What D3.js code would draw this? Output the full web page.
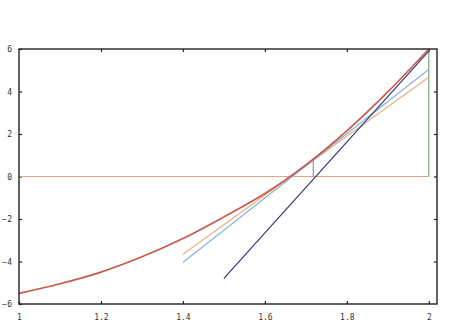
<!DOCTYPE html>
<html lang="en">
<head>
    <meta charset="UTF-8">
    <title>Newton iteration plot</title>
    <style>
        body { margin: 0; background: #fff; }
        .axis text { font-family: "DejaVu Sans Mono", monospace; font-size: 8px; fill: #333; }
        .axis line { stroke: #222; stroke-width: 1.2px; }
        .axis path { display: none; }
        .curve { fill: none; }
    </style>
    <script src="https://d3js.org/d3.v7.min.js"></script>
</head>
<body>
    <svg width="474" height="336"></svg>
    <script>
        // values
        const curveX = [1.0, 1.1, 1.2, 1.3, 1.4, 1.5, 1.6, 1.7, 1.8, 1.9, 2.0];
        const curveY = [-5.50, -5.05, -4.50, -3.78, -2.92, -1.90, -0.80, 0.55, 2.15, 3.98, 6.0];

        // straight segments: [x0, y0, x1, y1]
        const tangentNavy = [1.5, -4.79, 2.0, 5.9];
        const secantBlue = [1.4, -4.04, 2.0, 5.04];
        const secantOrange = [1.4, -3.66, 2.0, 4.67];
        const zeroLine = [1.0, 0, 2.0, 0];
        const stepPurple = [1.718, 0, 1.718, 0.87];
        const stepGreen = [2.0, 0, 2.0, 6.0];

        const xTicks = [1, 1.2, 1.4, 1.6, 1.8, 2];
        const yTicks = [-6, -4, -2, 0, 2, 4, 6];

        const mLeft = 19, mRight = 437, mTop = 49, mBottom = 304;

        const svg = d3.select("svg");

        const x = d3.scaleLinear().domain([1, 2.02]).range([mLeft, mRight]);
        const y = d3.scaleLinear().domain([-6, 6]).range([mBottom, mTop]);

        // axes, ticks point inward
        svg.append("g").attr("class", "axis")
            .attr("transform", `translate(0,${mBottom})`)
            .call(d3.axisBottom(x).tickValues(xTicks).tickSizeInner(-3).tickSizeOuter(0).tickPadding(10)
                .tickFormat(d3.format("")));

        svg.append("g").attr("class", "axis")
            .attr("transform", `translate(0,${mTop})`)
            .call(d3.axisTop(x).tickValues(xTicks.slice(1)).tickSizeInner(-3).tickSizeOuter(0).tickFormat(""));

        svg.append("g").attr("class", "axis")
            .attr("transform", `translate(${mLeft},0)`)
            .call(d3.axisLeft(y).tickValues(yTicks).tickSizeInner(-3).tickSizeOuter(0).tickPadding(7)
                .tickFormat(d3.format("")));

        svg.append("g").attr("class", "axis")
            .attr("transform", `translate(${mRight},0)`)
            .call(d3.axisRight(y).tickValues(yTicks.slice(1, -1)).tickSizeInner(-3).tickSizeOuter(0).tickFormat(""));

        // plot lines
        const seg = (s, color, w) => svg.append("line")
            .attr("x1", x(s[0])).attr("y1", y(s[1]))
            .attr("x2", x(s[2])).attr("y2", y(s[3]))
            .attr("stroke", color).attr("stroke-width", w);

        seg(zeroLine, "#e6a487", 1.1);
        seg(stepGreen, "#7aa97a", 1.2);
        seg(stepPurple, "#b07a98", 1.1);
        seg(secantOrange, "#e9b27c", 1.2);
        seg(secantBlue, "#74a6dc", 1.2);

        const line = d3.line()
            .x((d, i) => x(curveX[i]))
            .y(d => y(d))
            .curve(d3.curveCatmullRom);

        svg.append("path")
            .attr("class", "curve")
            .attr("d", line(curveY))
            .attr("stroke", "#c9574b")
            .attr("stroke-width", 1.6);

        seg(tangentNavy, "#2e2f73", 1.1);

        // frame
        svg.append("rect")
            .attr("x", mLeft).attr("y", mTop)
            .attr("width", mRight - mLeft).attr("height", mBottom - mTop)
            .attr("fill", "none").attr("stroke", "#222").attr("stroke-width", 1.4);
    </script>
</body>
</html>
